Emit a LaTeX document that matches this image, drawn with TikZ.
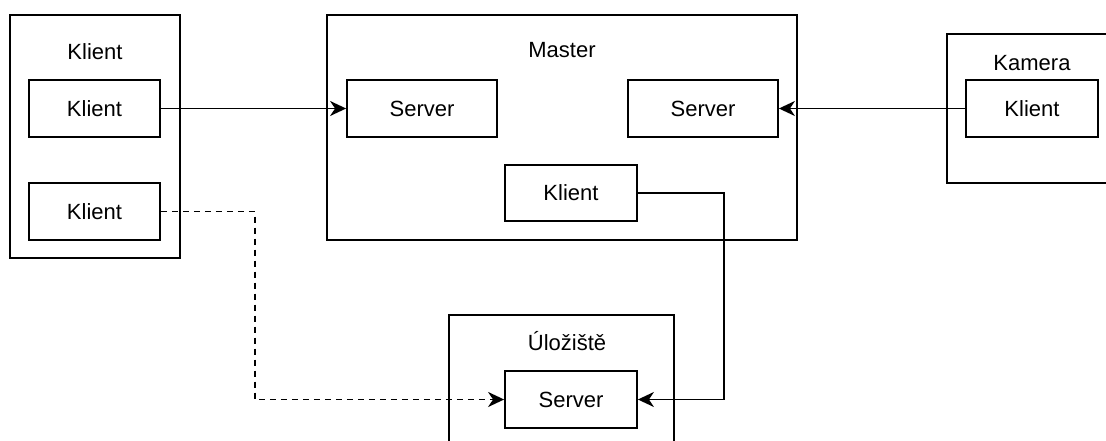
\documentclass[tikz,border=0pt]{standalone}
\usepackage{fontspec}
\setmainfont{Liberation Sans}
\usepackage{tikz}
\usetikzlibrary{arrows.meta}
\tikzstyle{box}=[rectangle, draw, line width=1.8pt, inner sep=0pt, font=\fontsize{22}{26}\selectfont, text height=15.8pt, text depth=0pt]
\tikzstyle{title}=[inner sep=0pt, font=\fontsize{22}{26}\selectfont, text height=15.8pt, text depth=0pt]
\tikzstyle{link}=[line width=1.8pt, -{Stealth[length=16pt, width=15pt, inset=5pt]}]
\newcommand{\unit}[3]{\node[box, minimum width=#2pt, minimum height=#3pt]}

\begin{document}
\begin{tikzpicture}[x=1pt, y=-1pt]
	\useasboundingbox (0,0) rectangle (1106,441);
	%% the containers
	\unit{}{170}{243} (clients) at (95,136.5) {};
	\unit{}{470}{225} (master) at (562,127.5) {};
	\unit{}{170}{149} (camera) at (1032,108.5) {};
	\unit{}{225}{145} (storage) at (561.5,387.5) {};
	\node[title] (clientsT) at (95,52) {Klient};
	\node[title] (masterT) at (562,50) {Master};
	\node[title] (cameraT) at (1032,63) {Kamera};
	\node[title] (storageT) at (567,343) {Úložiště};
	%% the inner boxes
	\unit{}{131}{57} (k1) at (94.5,108.5) {Klient};
	\unit{}{131}{57} (k2) at (94.5,211.5) {Klient};
	\unit{}{150}{57} (s1) at (422,108.5) {Server};
	\unit{}{150}{57} (s2) at (703,108.5) {Server};
	\unit{}{132}{56} (mk) at (571,193) {Klient};
	\unit{}{132}{57} (ck) at (1032,108.5) {Klient};
	\unit{}{132}{57} (ss) at (571,399.5) {Server};
	%% for the edges
	\draw[link] (k1) -- (s1);
	\draw[link] (ck) -- (s2);
	\draw[link] (mk.east) -- ++(86,0) |- (ss.east);
	\draw[link, dash pattern=on 6pt off 5pt] (k2.east) -- ++(94,0) |- (ss.west);
\end{tikzpicture}
\end{document}
